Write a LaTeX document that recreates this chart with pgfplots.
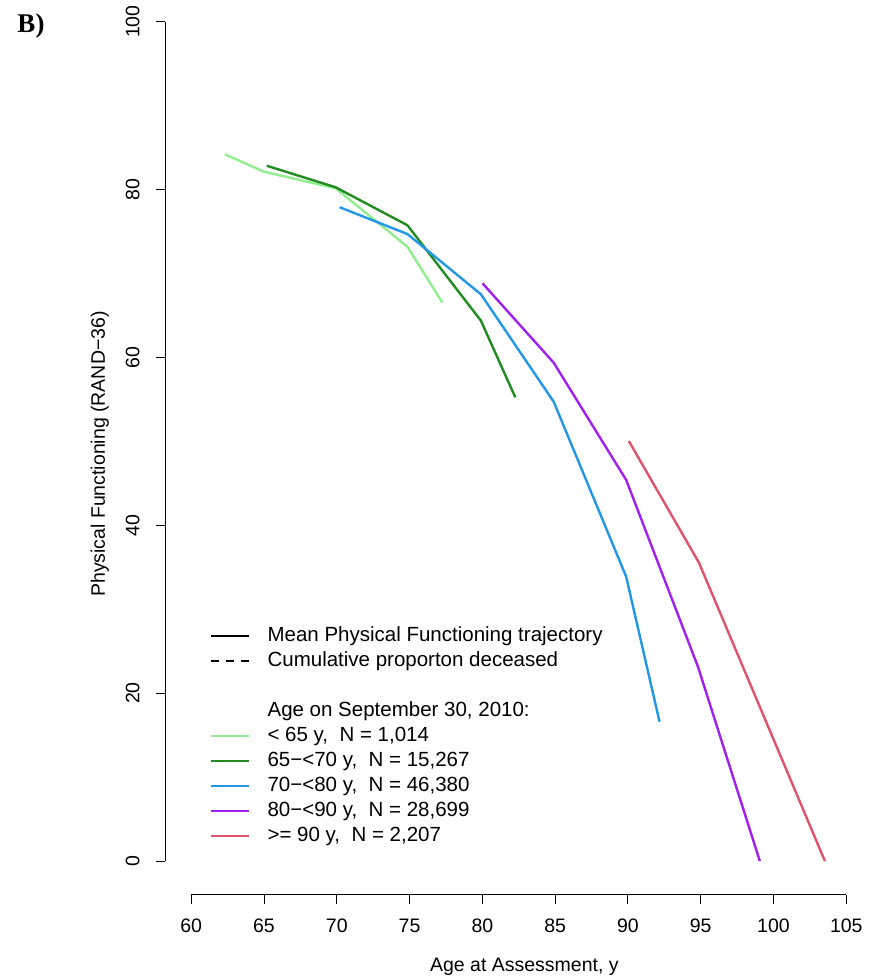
\documentclass[border=0pt]{standalone}
\usepackage{pgfplots}
\pgfplotsset{compat=1.18}
\usepackage{fontspec}
\setmainfont{Liberation Sans}
\newfontfamily\timesfont{Liberation Serif}
\definecolor{cA}{RGB}{144,238,144}
\definecolor{cB}{RGB}{34,139,34}
\definecolor{cC}{RGB}{34,151,230}
\definecolor{cD}{RGB}{160,32,240}
\definecolor{cE}{RGB}{223,83,107}
\begin{document}
\begin{tikzpicture}[x=1pt,y=1pt]
\path[use as bounding box] (-165,-85.4) rectangle (712,894.6);
\begin{axis}[
  at={(0,0)}, anchor=south west, scale only axis,
  width=707.5pt, height=906.5pt,
  xmin=58.2, xmax=106.8, ymin=-4, ymax=104,
  axis x line*=bottom, axis y line*=left,
  axis line style={draw=none},
  xtick={60,65,...,105}, ytick={0,20,...,100},
  tick align=outside, major tick length=9pt,
  tick style={black, line width=0.9pt},
  /pgf/number format/assume math mode=true,
  ticklabel style={font=\fontsize{19.5}{23}\selectfont},
  xticklabel style={yshift=-12pt},
  yticklabel style={rotate=90, anchor=south, yshift=13pt},
  label style={font=\fontsize{19.5}{23}\selectfont},
  xlabel={Age at Assessment, y},
  ylabel={Physical Functioning (RAND−36)},
  xlabel style={at={(axis description cs:0.508,-0.0843)}, anchor=base},
  ylabel style={at={(axis description cs:-0.085,0.486)}, anchor=base},
  clip=false,
  legend style={at={(rel axis cs:0.0636,0.2952)}, anchor=north west, draw=none, fill=none,
    font=\fontsize{20.5}{24}\selectfont, inner sep=0pt, row sep=7pt, column sep=17pt,
    nodes={inner sep=0pt, text height=14pt, text depth=4pt}},
  legend cell align=left,
  legend image code/.code={\draw[#1] (0pt,0pt) -- (38pt,0pt);},
  every axis plot/.append style={line width=2.4pt},
]
\draw[black, line width=0.9pt] (axis cs:60,-4) -- (axis cs:105,-4);
\draw[black, line width=0.9pt] (axis cs:58.2,0) -- (axis cs:58.2,100);
\addlegendimage{black, line width=1.6pt}
\addlegendentry{Mean Physical Functioning trajectory}
\addlegendimage{black, line width=1.6pt, dash pattern=on 8pt off 7pt}
\addlegendentry{Cumulative proporton deceased}
\addlegendimage{empty legend}
\addlegendentry{}
\addlegendimage{empty legend}
\addlegendentry{Age on September 30, 2010:}
\addplot[cA] coordinates {(62.31,84.2) (64.99,82.13) (69.92,80.15) (74.85,73.19) (77.26,66.52)};
\addlegendentry{< 65 y,\ \ N = 1,014}
\addplot[cB] coordinates {(65.18,82.84) (69.92,80.27) (74.85,75.75) (79.9,64.38) (82.26,55.25)};
\addlegendentry{65−<70 y,\ \ N = 15,267}
\addplot[cC] coordinates {(70.2,77.89) (74.85,74.7) (79.9,67.52) (84.9,54.72) (89.88,33.87) (92.17,16.6)};
\addlegendentry{70−<80 y,\ \ N = 46,380}
\addplot[cD] coordinates {(80.01,68.83) (84.9,59.37) (89.88,45.4) (94.81,23.15) (99.06,0)};
\addlegendentry{80−<90 y,\ \ N = 28,699}
\addplot[cE] coordinates {(90.06,50.04) (94.88,35.54) (100,14.5) (103.53,0)};
\addlegendentry{>= 90 y,\ \ N = 2,207}
\end{axis}
\node[anchor=base west, inner sep=0pt, font=\timesfont\bfseries\fontsize{27}{30}\selectfont] at (-147.7,861.6) {B)};
\end{tikzpicture}
\end{document}
